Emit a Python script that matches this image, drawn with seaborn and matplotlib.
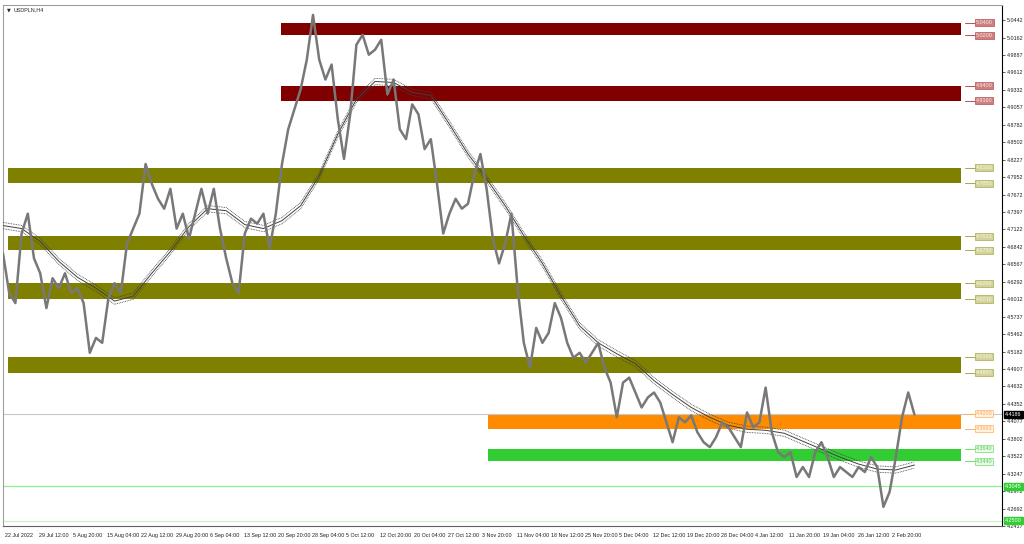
import numpy as np
import pandas as pd
import matplotlib
matplotlib.use("Agg")
import matplotlib.pyplot as plt
import matplotlib.transforms as mtransforms
from matplotlib.patches import Rectangle
import seaborn as sns

symbol = "USDPLN,H4"

# close prices, one value every 8 H4 bars
close_step = 8
close = [4.6740, 4.6110, 4.5952, 4.7055, 4.7370, 4.6661, 4.6425, 4.5873, 4.6346, 4.6188,
         4.6425, 4.6110, 4.6188, 4.5952, 4.5164, 4.5400, 4.5322, 4.6031, 4.6267, 4.6110,
         4.6897, 4.7134, 4.7370, 4.8158, 4.7843, 4.7606, 4.7449, 4.7764, 4.7134, 4.7370,
         4.6976, 4.7370, 4.7764, 4.7370, 4.7764, 4.7134, 4.6661, 4.6267, 4.6110, 4.7055,
         4.7291, 4.7212, 4.7370, 4.6818, 4.7370, 4.8158, 4.8709, 4.9025, 4.9340, 4.9813,
         5.0522, 4.9813, 4.9497, 4.9734, 4.8867, 4.8237, 4.8946, 5.0049, 5.0206, 4.9891,
         4.9970, 5.0128, 4.9261, 4.9497, 4.8709, 4.8552, 4.9103, 4.8946, 4.8394, 4.8552,
         4.7843, 4.7055, 4.7370, 4.7606, 4.7449, 4.7528, 4.8000, 4.8316, 4.7764, 4.6976,
         4.6582, 4.6897, 4.7370, 4.6188, 4.5322, 4.4928, 4.5558, 4.5322, 4.5479, 4.5952,
         4.5716, 4.5322, 4.5085, 4.5164, 4.5006, 4.5164, 4.5322, 4.4928, 4.4691, 4.4140,
         4.4691, 4.4770, 4.4534, 4.4297, 4.4455, 4.4534, 4.4376, 4.4061, 4.3746, 4.4140,
         4.4061, 4.4171, 4.3903, 4.3746, 4.3667, 4.3824, 4.4061, 4.3982, 4.3824, 4.3667,
         4.4218, 4.3982, 4.4061, 4.4612, 4.3903, 4.3588, 4.3509, 4.3588, 4.3194, 4.3352,
         4.3194, 4.3588, 4.3746, 4.3509, 4.3194, 4.3352, 4.3273, 4.3194, 4.3352, 4.3273,
         4.3509, 4.3352, 4.2721, 4.2958, 4.3509, 4.4140, 4.4534, 4.4186]

# moving average, one value every 24 bars
ma_step = 24
ma = [4.7181, 4.7134, 4.6929, 4.6614, 4.6362, 4.6188, 4.5983, 4.6062, 4.6425, 4.6771,
      4.7165, 4.7449, 4.7417, 4.7197, 4.7134, 4.7260, 4.7496, 4.7969, 4.8631, 4.9182,
      4.9466, 4.9450, 4.9293, 4.9245, 4.8788, 4.8316, 4.7922, 4.7496, 4.7023, 4.6582,
      4.6062, 4.5590, 4.5322, 4.5148, 4.4991, 4.4723, 4.4502, 4.4297, 4.4140, 4.4014,
      4.3951, 4.3935, 4.3888, 4.3761, 4.3635, 4.3509, 4.3399, 4.3320, 4.3305, 4.3384]
env_width = 0.005
bid = 4.4186

zone_top = [5.0400, 4.9400, 4.8100, 4.7013, 4.6266, 4.5100, 4.4200, 4.3640]
zone_bottom = [5.0200, 4.9160, 4.7850, 4.6790, 4.6016, 4.4850, 4.3963, 4.3440]
zone_start = [359, 359, 6, 6, 6, 6, 626, 626]
zone_end = 1236
zone_colors = ["#800000", "#800000", "#808000", "#808000", "#808000", "#808000", "#ff8c00", "#32cd32"]
label_line = ["#b85050", "#b85050", "#a8a850", "#a8a850", "#a8a850", "#a8a850", "#ffb060", "#70e070"]
label_fill = ["#cc8080", "#cc8080", "#d2d29a", "#d2d29a", "#d2d29a", "#d2d29a", "#fff0e0", "#e6fae6"]
label_text = ["#ffe8e8", "#ffe8e8", "#fafae8", "#fafae8", "#fafae8", "#fafae8", "#ffa850", "#50cc50"]

green_lines = [4.3045, 4.2500]
green_line_colors = ["#90ee90", "#c8f0c8"]

ytick_values = [5.0442, 5.0162, 4.9887, 4.9612, 4.9332, 4.9057, 4.8782, 4.8502, 4.8227, 4.7952,
                4.7672, 4.7397, 4.7122, 4.6842, 4.6567, 4.6292, 4.6012, 4.5737, 4.5462, 4.5182,
                4.4907, 4.4632, 4.4352, 4.4077, 4.3802, 4.3522, 4.3247, 4.2972, 4.2692, 4.2417]

date_labels = ["22 Jul 2022", "29 Jul 12:00", "5 Aug 20:00", "15 Aug 04:00", "22 Aug 12:00",
               "29 Aug 20:00", "6 Sep 04:00", "13 Sep 12:00", "20 Sep 20:00", "28 Sep 04:00",
               "5 Oct 12:00", "12 Oct 20:00", "20 Oct 04:00", "27 Oct 12:00", "3 Nov 20:00",
               "11 Nov 04:00", "18 Nov 12:00", "25 Nov 20:00", "5 Dec 04:00", "12 Dec 12:00",
               "19 Dec 20:00", "28 Dec 04:00", "4 Jan 12:00", "11 Jan 20:00", "19 Jan 04:00",
               "26 Jan 12:00", "2 Feb 20:00"]
date_step = 44
total_bars = 1289

sns.set_style("white")
plt.rcParams["font.family"] = ["Liberation Sans", "DejaVu Sans"]
fs = 3.9

df = pd.DataFrame({"bar": np.arange(len(close)) * close_step, "close": close})
dma = pd.DataFrame({"bar": np.arange(len(ma)) * ma_step, "ma": ma})

fig = plt.figure(figsize=(10.24, 5.44), dpi=100)
ax = fig.add_axes([3 / 1024, 18 / 544, 999 / 1024, 521 / 544])

# zones
for top, bot, start, col in zip(zone_top, zone_bottom, zone_start, zone_colors):
    ax.add_patch(Rectangle((start, bot), zone_end - start, top - bot, color=col, lw=0, zorder=1))

# price labels at zone edges
for top, bot, lc, fc, tc in zip(zone_top, zone_bottom, label_line, label_fill, label_text):
    for lvl in (top, bot):
        ax.plot([zone_end + 5, zone_end + 18], [lvl, lvl], color=lc, lw=0.7, zorder=2)
        ax.text(zone_end + 19, lvl, f"{lvl:.4f}", fontsize=fs, color=tc, va="center", ha="left",
                bbox=dict(boxstyle="square,pad=0.2", fc=fc, ec=lc, lw=0.5), zorder=3)

for lvl, col in zip(green_lines, green_line_colors):
    ax.axhline(lvl, color=col, lw=0.9, zorder=1)
ax.axhline(bid, color="#c8c8c8", lw=0.8, zorder=1)

# moving average envelope
sns.lineplot(data=dma, x="bar", y="ma", color="#404040", lw=0.7, ax=ax, zorder=4)
for sgn in (1, -1):
    ax.plot(dma["bar"], dma["ma"] + sgn * env_width, color="#404040", lw=0.6, ls=(0, (1, 1)), zorder=4)

# price
sns.lineplot(data=df, x="bar", y="close", color="#787878", lw=1.8, ax=ax, zorder=5)

ax.set_xlim(0, total_bars)
ax.set_ylim(4.2469, 5.0679)
ax.set_xlabel("")
ax.set_ylabel("")

ax.yaxis.tick_right()
ax.set_yticks(ytick_values)
ax.set_yticklabels([f"{v:.4f}" for v in ytick_values], fontsize=fs)
ax.tick_params(axis="y", length=2, width=0.5, pad=1.5, colors="#202020")

ticks = np.arange(len(date_labels)) * date_step
ax.set_xticks(ticks)
ax.set_xticklabels(date_labels, fontsize=fs, ha="left")
ax.tick_params(axis="x", length=3, width=0.5, pad=2, colors="#202020")
offset = mtransforms.ScaledTranslation(2 / 100, 0, fig.dpi_scale_trans)
for lbl in ax.get_xticklabels():
    lbl.set_transform(lbl.get_transform() + offset)

for side in ["left", "top"]:
    ax.spines[side].set_color("#a0a0a0")
ax.spines["right"].set_color("black")
ax.spines["bottom"].set_color("#606060")
for s in ax.spines.values():
    s.set_linewidth(0.8)

# special price labels on the axis
yax = ax.get_yaxis_transform()
for lvl, fc in [(bid, "black"), (green_lines[0], "#32cd32"), (green_lines[1], "#32cd32")]:
    ax.text(1.003, lvl, f"{lvl:.4f}", transform=yax, fontsize=fs, color="white", va="center", ha="left",
            bbox=dict(boxstyle="square,pad=0.2", fc=fc, ec=fc), zorder=6, clip_on=False)

ax.text(0.004, 0.995, "\u25bc", transform=ax.transAxes, fontsize=3.5, va="top", ha="left",
        family="DejaVu Sans")
ax.text(0.011, 0.995, symbol, transform=ax.transAxes, fontsize=fs, va="top", ha="left")

fig.savefig("out.png", dpi=100)
